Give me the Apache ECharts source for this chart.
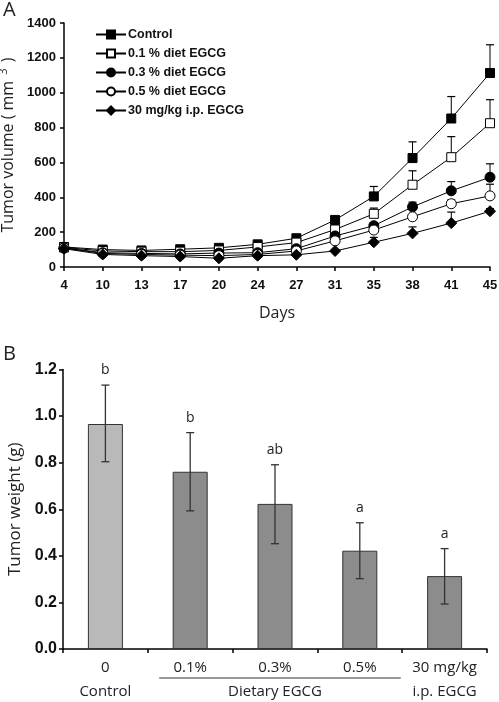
<!DOCTYPE html>
<html>
<head>
<meta charset="utf-8">
<script src="https://cdn.jsdelivr.net/npm/echarts@6/dist/echarts.min.js"></script>
<style>html,body{margin:0;padding:0;background:#fff;}#c{width:499px;height:702px;}</style>
</head>
<body>
<div id="c"></div>
<script>
// ---- Panel A data ----
const days = ['4','10','13','17','20','24','27','31','35','38','41','45'];
const control = [115,100,95,102,110,130,165,270,405,625,852,1113];
const diet01  = [112,92,88,88,95,115,140,215,305,472,630,825];
const diet03  = [110,82,78,75,80,82,105,178,237,345,437,515];
const diet05  = [108,78,72,68,65,72,92,150,212,288,363,408];
const ip30    = [105,72,65,60,50,65,70,92,142,193,252,320];
const controlUp = [125,108,102,110,118,140,178,288,462,718,978,1275];
const diet01Up  = [120,98,95,95,102,122,150,228,338,552,748,960];
const diet03Up  = [116,88,84,80,86,90,112,190,255,372,490,592];
const diet05Up  = [114,84,78,74,70,78,98,160,225,300,385,475];
const ip30Up    = [110,76,70,65,55,70,75,98,170,230,315,335];
const volTicks = [0,200,400,600,800,1000,1200,1400];

// ---- Panel B data ----
const groups = ['0','0.1%','0.3%','0.5%','30 mg/kg'];
const groupSub = ['Control','','Dietary EGCG','','i.p. EGCG'];
const weight = [0.966,0.761,0.623,0.422,0.313];
const weightLo = [0.804,0.593,0.452,0.302,0.193];
const weightHi = [1.133,0.929,0.791,0.542,0.431];
const letters = ['b','b','ab','a','a'];
const weightTicks = [0,0.2,0.4,0.6,0.8,1.0,1.2];

const chart = echarts.init(document.getElementById('c'));
const boldTick = {fontFamily:'Liberation Sans, Arial, sans-serif', fontWeight:'bold', color:'#111'};
const plainFont = 'Open Sans, Noto Sans, sans-serif';

function errA(upArr, valArr){
  return days.map((d,i)=>[i, valArr[i], upArr[i]]);
}
function renderErrA(params, api){
  const p1 = api.coord([api.value(0), api.value(1)]);
  const p2 = api.coord([api.value(0), api.value(2)]);
  const w = 8;
  return {type:'group', children:[
    {type:'line', shape:{x1:p1[0],y1:p1[1],x2:p2[0],y2:p2[1]}, style:{stroke:'#000',lineWidth:1}},
    {type:'line', shape:{x1:p2[0]-w/2,y1:p2[1],x2:p2[0]+w/2,y2:p2[1]}, style:{stroke:'#000',lineWidth:1.2}}
  ]};
}
function renderErrB(params, api){
  const i = params.dataIndex;
  const p1 = api.coord([api.value(0), api.value(1)]);
  const p2 = api.coord([api.value(0), api.value(2)]);
  const w = 8;
  return {type:'group', children:[
    {type:'line', shape:{x1:p1[0],y1:p1[1],x2:p2[0],y2:p2[1]}, style:{stroke:'#333',lineWidth:1.3}},
    {type:'line', shape:{x1:p2[0]-w/2,y1:p2[1],x2:p2[0]+w/2,y2:p2[1]}, style:{stroke:'#333',lineWidth:1.3}},
    {type:'line', shape:{x1:p1[0]-w/2,y1:p1[1],x2:p1[0]+w/2,y2:p1[1]}, style:{stroke:'#333',lineWidth:1.3}},
    {type:'text', x:p2[0], y:p2[1]-8, style:{text:letters[i], textAlign:'center', textVerticalAlign:'bottom', fontSize:14, fontFamily:plainFont, fill:'#222'}}
  ]};
}

const diamond = 'path://M0,-1L1,0L0,1L-1,0Z';
function lineSeries(name, data, symbol, size, fill){
  return {
    type:'line', name, data, xAxisIndex:0, yAxisIndex:0,
    symbol, symbolSize:size, showAllSymbol:true,
    lineStyle:{color:'#000', width:1},
    itemStyle:{color:fill, borderColor:'#000', borderWidth:1},
    z:5, animation:false
  };
}
function errSeries(up, val){
  return {type:'custom', xAxisIndex:0, yAxisIndex:0, renderItem:renderErrA, data:errA(up,val), z:3, animation:false, silent:true};
}

const titles = [
  {type:'text', left:3, top:0, style:{text:'A', fontFamily:plainFont, fontSize:20, fill:'#222'}},
  {type:'text', left:3, top:344, style:{text:'B', fontFamily:plainFont, fontSize:20, fill:'#222'}}
];

const option = {
  animation:false,
  backgroundColor:'#fff',
  legend:{
    orient:'vertical', left:90, top:23, itemWidth:30, itemHeight:10, itemGap:6,
    textStyle:{fontFamily:'Liberation Sans, Arial, sans-serif', fontWeight:'bold', fontSize:12.5, color:'#111', padding:[0,0,0,-3]},
    data:['Control','0.1 % diet EGCG','0.3 % diet EGCG','0.5 % diet EGCG','30 mg/kg i.p. EGCG']
  },
  grid:[
    {left:64, top:23, width:426, height:244, containLabel:false, outerBoundsMode:'none'},
    {left:63, top:369.5, width:424, height:279.5, containLabel:false, outerBoundsMode:'none'}
  ],
  xAxis:[
    {gridIndex:0, type:'category', data:days, boundaryGap:false,
     axisLine:{lineStyle:{color:'#000', width:1.5}},
     axisTick:{show:true, length:4, inside:false, alignWithLabel:true, lineStyle:{color:'#000', width:1.5}},
     axisLabel:{...boldTick, fontSize:13, margin:12, interval:0},
     name:'Days', nameLocation:'middle', nameGap:38,
     nameTextStyle:{fontFamily:plainFont, fontSize:16, color:'#222'}},
    {gridIndex:1, type:'category', data:groups, boundaryGap:true,
     axisLine:{lineStyle:{color:'#000', width:1.5}},
     axisTick:{show:true, length:4, lineStyle:{color:'#000', width:1.5}},
     axisLabel:{interval:0, margin:7, fontFamily:plainFont, fontSize:15, color:'#222', lineHeight:24,
       formatter:(v, i)=> groupSub[i] ? v + '\n' + groupSub[i] : v}}
  ],
  yAxis:[
    {gridIndex:0, type:'value', min:0, max:1400, interval:200,
     axisLine:{show:true, lineStyle:{color:'#000', width:1.5}},
     axisTick:{show:true, length:4, lineStyle:{color:'#000', width:1.5}},
     splitLine:{show:false},
     axisLabel:{...boldTick, fontSize:13, margin:8, formatter:v=>String(v)},
     name:'{a|Tumor volume ( mm }{s|3}{a| )}', nameLocation:'middle', nameGap:31,
     nameTextStyle:{rich:{a:{fontFamily:plainFont, fontSize:16, color:'#222'}, s:{fontFamily:plainFont, fontSize:11, color:'#222', padding:[0,2,8,2]}}}},
    {gridIndex:1, type:'value', min:0, max:1.2, interval:0.2,
     axisLine:{show:true, lineStyle:{color:'#000', width:1.5}},
     axisTick:{show:true, length:4, lineStyle:{color:'#000', width:1.5}},
     splitLine:{show:false},
     axisLabel:{...boldTick, fontSize:16, margin:6, formatter:v=>v.toFixed(1)},
     name:'Tumor weight (g)', nameLocation:'middle', nameGap:38,
     nameTextStyle:{fontFamily:plainFont, fontSize:17, color:'#222'}}
  ],
  series:[
    errSeries(controlUp, control),
    errSeries(diet01Up, diet01),
    errSeries(diet03Up, diet03),
    errSeries(diet05Up, diet05),
    errSeries(ip30Up, ip30),
    lineSeries('Control', control, 'rect', 9, '#000'),
    lineSeries('0.1 % diet EGCG', diet01, 'rect', 9, '#fff'),
    lineSeries('0.3 % diet EGCG', diet03, 'circle', 10, '#000'),
    lineSeries('0.5 % diet EGCG', diet05, 'circle', 10, '#fff'),
    lineSeries('30 mg/kg i.p. EGCG', ip30, diamond, 11, '#000'),
    {type:'bar', xAxisIndex:1, yAxisIndex:1, barWidth:35,
     data: weight.map((v,i)=>({value:v, itemStyle:{color: i===0 ? '#b9b9b9' : '#8c8c8c'}})),
     itemStyle:{borderColor:'#333', borderWidth:1}, z:2, animation:false},
    {type:'custom', xAxisIndex:1, yAxisIndex:1, renderItem:renderErrB,
     data: weight.map((v,i)=>[i, weightLo[i], weightHi[i]]), z:4, animation:false, silent:true}
  ],
  graphic: titles
};
chart.setOption(option);
// underline under the dietary group labels
const pa = chart.convertToPixel({xAxisIndex:1}, 1);
const pb = chart.convertToPixel({xAxisIndex:1}, 3);
chart.setOption({graphic: titles.concat([
  {type:'line', shape:{x1:pa-31, y1:678, x2:pb+41, y2:678}, style:{stroke:'#333', lineWidth:1}}
])});
</script>
</body>
</html>
